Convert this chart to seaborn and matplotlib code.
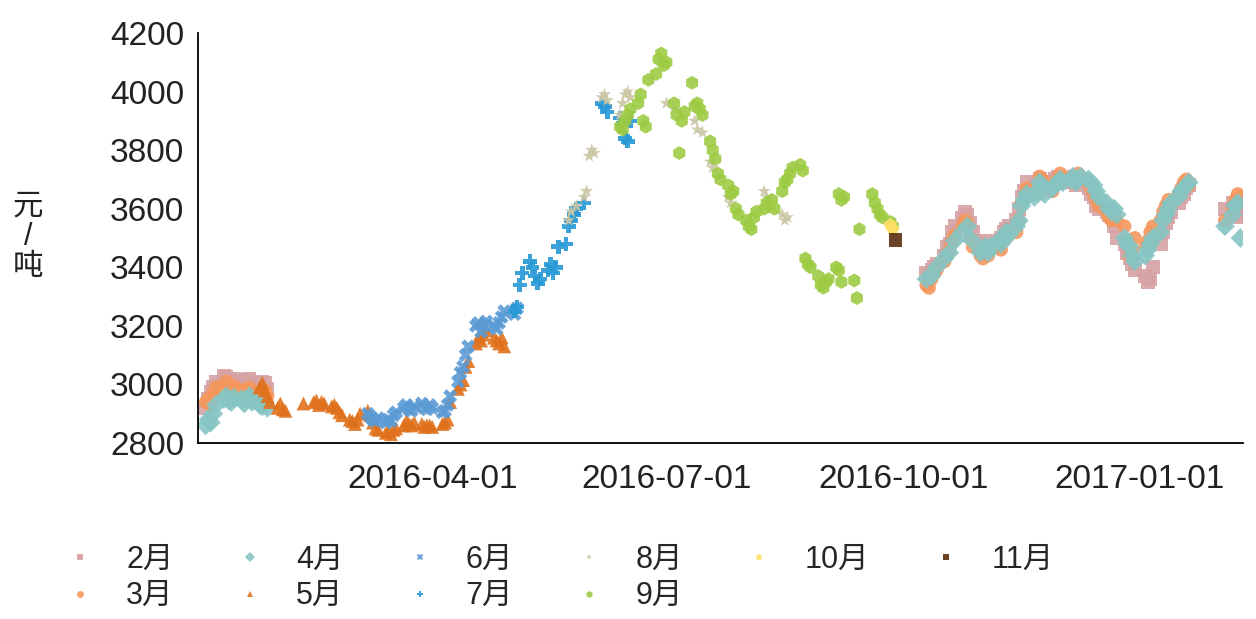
import matplotlib
matplotlib.use("Agg")
import matplotlib.pyplot as plt
import matplotlib.dates as mdates
import pandas as pd
import seaborn as sns

# contract months, colours, markers
contracts = ["2月", "3月", "4月", "5月", "6月", "7月", "8月", "9月", "10月", "11月"]
colors = ["#d6a2a4", "#f5975e", "#86c5c3", "#e0711c", "#5b9bd5", "#2799d6",
          "#cac6a4", "#9ecb43", "#ffe066", "#5c2e0e"]
markers = ["s", "o", "D", "^", "X", "P", "*", "h", "p", "s"]

# ---- 2月 ----
feb_dates = ["2016-01-04", "2016-01-05", "2016-01-06", "2016-01-07", "2016-01-08",
             "2016-01-11", "2016-01-12", "2016-01-13", "2016-01-14", "2016-01-15",
             "2016-01-18", "2016-01-19", "2016-01-20", "2016-01-21", "2016-01-22",
             "2016-01-25", "2016-01-26", "2016-01-27", "2016-01-28",
             "2016-10-10", "2016-10-11", "2016-10-12", "2016-10-13", "2016-10-14",
             "2016-10-17", "2016-10-18", "2016-10-19", "2016-10-20", "2016-10-21",
             "2016-10-24", "2016-10-25", "2016-10-26", "2016-10-27", "2016-10-28",
             "2016-10-31", "2016-11-01", "2016-11-02", "2016-11-03", "2016-11-07",
             "2016-11-08", "2016-11-09", "2016-11-10", "2016-11-11", "2016-11-14",
             "2016-11-15", "2016-11-16", "2016-11-17", "2016-11-18", "2016-11-21",
             "2016-11-22", "2016-11-23", "2016-11-24", "2016-11-25", "2016-11-28",
             "2016-11-29", "2016-11-30", "2016-12-01", "2016-12-02", "2016-12-05",
             "2016-12-06", "2016-12-07", "2016-12-08", "2016-12-09", "2016-12-12",
             "2016-12-13", "2016-12-14", "2016-12-15", "2016-12-16", "2016-12-19",
             "2016-12-20", "2016-12-21", "2016-12-22", "2016-12-23", "2016-12-26",
             "2016-12-27", "2016-12-28", "2016-12-29", "2016-12-30", "2017-01-03",
             "2017-01-04", "2017-01-05", "2017-01-06", "2017-01-09", "2017-01-10",
             "2017-01-11", "2017-01-12", "2017-01-13", "2017-01-16", "2017-01-17",
             "2017-01-18", "2017-01-19", "2017-01-20", "2017-02-03", "2017-02-06",
             "2017-02-07", "2017-02-08", "2017-02-09"]
feb_vals = [2920, 2950, 2975, 2990, 3010, 3030, 3025, 3015, 3005, 3020,
            3010, 3000, 3015, 3020, 3005, 2995, 3010, 3005, 2985,
            3380, 3370, 3390, 3400, 3410, 3440, 3470, 3480, 3520, 3540,
            3570, 3590, 3580, 3550, 3520, 3480, 3470, 3490, 3470, 3490,
            3500, 3520, 3530, 3540, 3560, 3600, 3640, 3660, 3690, 3670,
            3680, 3700, 3690, 3680, 3690, 3700, 3710, 3700, 3690, 3700,
            3690, 3680, 3700, 3690, 3670, 3650, 3640, 3610, 3600, 3590,
            3580, 3570, 3540, 3500, 3480, 3450, 3430, 3410, 3390, 3370,
            3350, 3360, 3400, 3480, 3520, 3550, 3570, 3590, 3620, 3640,
            3650, 3670, 3680, 3600, 3620, 3590, 3570, 3580]

# ---- 3月 ----
mar_dates = ["2016-01-04", "2016-01-05", "2016-01-06", "2016-01-07", "2016-01-08",
             "2016-01-11", "2016-01-12", "2016-01-13", "2016-01-14", "2016-01-15",
             "2016-01-18", "2016-01-19", "2016-01-20", "2016-01-21", "2016-01-22",
             "2016-01-25", "2016-01-26", "2016-01-27", "2016-01-28",
             "2016-10-10", "2016-10-11", "2016-10-12", "2016-10-13", "2016-10-14",
             "2016-10-17", "2016-10-18", "2016-10-19", "2016-10-20", "2016-10-21",
             "2016-10-24", "2016-10-25", "2016-10-26", "2016-10-27", "2016-10-28",
             "2016-10-31", "2016-11-01", "2016-11-02", "2016-11-03", "2016-11-04",
             "2016-11-07", "2016-11-08", "2016-11-09", "2016-11-10", "2016-11-11",
             "2016-11-14", "2016-11-15", "2016-11-16", "2016-11-17", "2016-11-18",
             "2016-11-21", "2016-11-22", "2016-11-23", "2016-11-24", "2016-11-25",
             "2016-11-28", "2016-11-29", "2016-11-30", "2016-12-01", "2016-12-02",
             "2016-12-05", "2016-12-06", "2016-12-07", "2016-12-08", "2016-12-09",
             "2016-12-12", "2016-12-13", "2016-12-14", "2016-12-15", "2016-12-16",
             "2016-12-19", "2016-12-20", "2016-12-21", "2016-12-22", "2016-12-23",
             "2016-12-26", "2016-12-27", "2016-12-28", "2016-12-29", "2016-12-30",
             "2017-01-03", "2017-01-04", "2017-01-05", "2017-01-06", "2017-01-09",
             "2017-01-10", "2017-01-11", "2017-01-12", "2017-01-13", "2017-01-16",
             "2017-01-17", "2017-01-18", "2017-01-19", "2017-01-20", "2017-02-03",
             "2017-02-06", "2017-02-07", "2017-02-08", "2017-02-09"]
mar_vals = [2940, 2950, 2930, 2970, 2990, 3000, 3010, 2990, 2985, 2995,
            2980, 2970, 2985, 2990, 2975, 2965, 2970, 2980, 2960,
            3340, 3330, 3360, 3380, 3390, 3420, 3440, 3460, 3490, 3510,
            3540, 3560, 3550, 3500, 3470, 3440, 3430, 3450, 3440, 3460,
            3470, 3460, 3490, 3500, 3510, 3520, 3560, 3620, 3640, 3670,
            3650, 3680, 3710, 3700, 3670, 3660, 3690, 3700, 3720, 3700,
            3710, 3690, 3700, 3720, 3700, 3690, 3670, 3650, 3630, 3610,
            3590, 3570, 3560, 3580, 3560, 3540, 3490, 3440, 3460, 3500,
            3470, 3490, 3520, 3540, 3560, 3590, 3610, 3630, 3620, 3650,
            3670, 3690, 3700, 3680, 3560, 3600, 3630, 3650, 3640]

# ---- 4月 ----
apr_dates = ["2016-01-04", "2016-01-05", "2016-01-06", "2016-01-07", "2016-01-08",
             "2016-01-11", "2016-01-12", "2016-01-13", "2016-01-14", "2016-01-15",
             "2016-01-18", "2016-01-19", "2016-01-20", "2016-01-21", "2016-01-22",
             "2016-01-25", "2016-01-26", "2016-01-27", "2016-01-28",
             "2016-10-10", "2016-10-12", "2016-10-14", "2016-10-17", "2016-10-19",
             "2016-10-21", "2016-10-24", "2016-10-26", "2016-10-28", "2016-10-31",
             "2016-11-01", "2016-11-02", "2016-11-03", "2016-11-04", "2016-11-07",
             "2016-11-08", "2016-11-09", "2016-11-10", "2016-11-11", "2016-11-14",
             "2016-11-15", "2016-11-16", "2016-11-17", "2016-11-18", "2016-11-21",
             "2016-11-22", "2016-11-23", "2016-11-24", "2016-11-25", "2016-11-28",
             "2016-11-29", "2016-11-30", "2016-12-01", "2016-12-02", "2016-12-05",
             "2016-12-06", "2016-12-07", "2016-12-08", "2016-12-09", "2016-12-12",
             "2016-12-13", "2016-12-14", "2016-12-15", "2016-12-16", "2016-12-19",
             "2016-12-20", "2016-12-21", "2016-12-22", "2016-12-23", "2016-12-26",
             "2016-12-27", "2016-12-28", "2016-12-29", "2016-12-30", "2017-01-03",
             "2017-01-04", "2017-01-05", "2017-01-06", "2017-01-09", "2017-01-10",
             "2017-01-11", "2017-01-12", "2017-01-13", "2017-01-16", "2017-01-17",
             "2017-01-18", "2017-01-19", "2017-01-20", "2017-02-03", "2017-02-06",
             "2017-02-07", "2017-02-08", "2017-02-09"]
apr_vals = [2860, 2880, 2870, 2900, 2930, 2950, 2960, 2945, 2940, 2955,
            2950, 2935, 2950, 2960, 2940, 2930, 2925, 2940, 2920,
            3360, 3370, 3400, 3430, 3450, 3490, 3520, 3540, 3490, 3450,
            3460, 3470, 3450, 3470, 3490, 3480, 3500, 3520, 3510, 3540,
            3560, 3610, 3630, 3650, 3640, 3660, 3690, 3680, 3650, 3670,
            3680, 3690, 3700, 3690, 3700, 3710, 3690, 3700, 3710, 3700,
            3690, 3680, 3660, 3640, 3620, 3600, 3590, 3600, 3580, 3500,
            3480, 3470, 3440, 3420, 3440, 3460, 3480, 3500, 3520, 3560,
            3580, 3600, 3620, 3640, 3660, 3670, 3680, 3690, 3540, 3580,
            3610, 3620, 3500]

# ---- 5月 ----
may_dates = ["2016-01-25", "2016-01-26", "2016-01-27", "2016-01-28", "2016-01-29",
             "2016-02-01", "2016-02-02", "2016-02-03", "2016-02-04", "2016-02-11",
             "2016-02-15", "2016-02-16", "2016-02-17", "2016-02-18", "2016-02-19",
             "2016-02-22", "2016-02-23", "2016-02-24", "2016-02-25", "2016-02-26",
             "2016-02-29", "2016-03-01", "2016-03-02", "2016-03-03", "2016-03-04",
             "2016-03-07", "2016-03-08", "2016-03-09", "2016-03-10", "2016-03-11",
             "2016-03-14", "2016-03-15", "2016-03-16", "2016-03-17", "2016-03-18",
             "2016-03-21", "2016-03-22", "2016-03-23", "2016-03-24", "2016-03-25",
             "2016-03-28", "2016-03-29", "2016-03-30", "2016-03-31", "2016-04-01",
             "2016-04-05", "2016-04-06", "2016-04-07", "2016-04-08", "2016-04-11",
             "2016-04-12", "2016-04-13", "2016-04-14", "2016-04-15", "2016-04-18",
             "2016-04-19", "2016-04-20", "2016-04-21", "2016-04-22", "2016-04-25",
             "2016-04-26", "2016-04-27", "2016-04-28", "2016-04-29"]
may_vals = [2990, 3005, 2980, 2960, 2940, 2920, 2935, 2915, 2910, 2935,
            2940, 2945, 2930, 2940, 2935, 2925, 2930, 2920, 2905, 2895,
            2880, 2875, 2865, 2880, 2900, 2910, 2895, 2870, 2850, 2845,
            2835, 2840, 2830, 2845, 2850, 2860, 2875, 2865, 2860, 2870,
            2865, 2855, 2860, 2860, 2855, 2865, 2870, 2880, 2940, 2985,
            3000, 3015, 3060, 3080, 3140, 3160, 3150, 3170, 3185, 3160,
            3150, 3140, 3160, 3130]

# ---- 6月 ----
jun_dates = ["2016-03-07", "2016-03-08", "2016-03-09", "2016-03-10", "2016-03-11",
             "2016-03-14", "2016-03-15", "2016-03-16", "2016-03-17", "2016-03-18",
             "2016-03-21", "2016-03-22", "2016-03-23", "2016-03-24", "2016-03-25",
             "2016-03-28", "2016-03-29", "2016-03-30", "2016-03-31", "2016-04-01",
             "2016-04-05", "2016-04-06", "2016-04-07", "2016-04-08", "2016-04-11",
             "2016-04-12", "2016-04-13", "2016-04-14", "2016-04-15", "2016-04-18",
             "2016-04-19", "2016-04-20", "2016-04-21", "2016-04-22", "2016-04-25",
             "2016-04-26", "2016-04-27", "2016-04-28", "2016-04-29", "2016-05-03",
             "2016-05-04"]
jun_vals = [2900, 2890, 2880, 2875, 2885, 2870, 2880, 2875, 2895, 2905,
            2920, 2930, 2915, 2910, 2925, 2935, 2920, 2915, 2930, 2920,
            2905, 2910, 2930, 2960, 3010, 3040, 3060, 3100, 3130, 3200,
            3210, 3180, 3200, 3215, 3200, 3190, 3210, 3230, 3250, 3240,
            3260]

# ---- 7月 ----
jul_dates = ["2016-05-03", "2016-05-04", "2016-05-05", "2016-05-06", "2016-05-09",
             "2016-05-10", "2016-05-11", "2016-05-12", "2016-05-13", "2016-05-16",
             "2016-05-17", "2016-05-18", "2016-05-19", "2016-05-20", "2016-05-23",
             "2016-05-24", "2016-05-25", "2016-05-26", "2016-05-27", "2016-05-30",
             "2016-06-06", "2016-06-07", "2016-06-08", "2016-06-13", "2016-06-14",
             "2016-06-15", "2016-06-16", "2016-06-17"]
jul_vals = [3250, 3265, 3340, 3380, 3420, 3400, 3370, 3345, 3360, 3390,
            3410, 3380, 3400, 3470, 3480, 3540, 3560, 3580, 3600, 3620,
            3960, 3950, 3930, 3910, 3890, 3840, 3830, 3900]

# ---- 8月 ----
aug_dates = ["2016-05-24", "2016-05-25", "2016-05-27", "2016-05-30", "2016-05-31",
             "2016-06-01", "2016-06-02", "2016-06-03", "2016-06-06", "2016-06-07",
             "2016-06-08", "2016-06-13", "2016-06-14", "2016-06-15", "2016-06-16",
             "2016-06-17", "2016-07-01", "2016-07-04", "2016-07-12", "2016-07-13",
             "2016-07-15", "2016-07-18", "2016-07-19", "2016-07-25", "2016-07-26",
             "2016-08-08", "2016-08-09", "2016-08-15", "2016-08-16", "2016-08-17"]
aug_vals = [3560, 3590, 3610, 3640, 3660, 3780, 3800, 3790, 3980, 3990,
            3970, 3920, 3960, 3990, 4000, 3980, 3960, 3940, 3900, 3870,
            3860, 3760, 3740, 3640, 3620, 3660, 3640, 3580, 3560, 3570]

# ---- 9月 ----
sep_dates = ["2016-06-13", "2016-06-14", "2016-06-15", "2016-06-16", "2016-06-17",
             "2016-06-20", "2016-06-21", "2016-06-22", "2016-06-23", "2016-06-24",
             "2016-06-27", "2016-06-28", "2016-06-29", "2016-06-30", "2016-07-01",
             "2016-07-04", "2016-07-05", "2016-07-06", "2016-07-07", "2016-07-08",
             "2016-07-11", "2016-07-12", "2016-07-13", "2016-07-14", "2016-07-15",
             "2016-07-18", "2016-07-19", "2016-07-20", "2016-07-21", "2016-07-22",
             "2016-07-25", "2016-07-26", "2016-07-27", "2016-07-28", "2016-07-29",
             "2016-08-01", "2016-08-02", "2016-08-03", "2016-08-04", "2016-08-05",
             "2016-08-08", "2016-08-09", "2016-08-10", "2016-08-11", "2016-08-12",
             "2016-08-15", "2016-08-16", "2016-08-17", "2016-08-18", "2016-08-19",
             "2016-08-22", "2016-08-23",
             "2016-08-24", "2016-08-25", "2016-08-26", "2016-08-29", "2016-08-30",
             "2016-08-31", "2016-09-01", "2016-09-02", "2016-09-05", "2016-09-06",
             "2016-09-07", "2016-09-12", "2016-09-13",
             "2016-09-06", "2016-09-07", "2016-09-08", "2016-09-19", "2016-09-20",
             "2016-09-21", "2016-09-22", "2016-09-23", "2016-09-26", "2016-09-27",
             "2016-09-14"]
sep_vals = [3880, 3870, 3900, 3920, 3940, 3960, 3990, 3900, 3880, 4040,
            4060, 4110, 4130, 4090, 4100, 3960, 3920, 3790, 3900, 3930,
            4030, 3950, 3960, 3940, 3920, 3830, 3800, 3770, 3720, 3700,
            3680, 3650, 3660, 3600, 3580, 3560, 3540, 3530, 3570, 3590,
            3600, 3620, 3610, 3630, 3600, 3660, 3690, 3700, 3720, 3740,
            3750, 3730,
            3430, 3410, 3400, 3370, 3340, 3330, 3350, 3360, 3400, 3390,
            3350, 3355, 3295,
            3650, 3630, 3640, 3650, 3620, 3600, 3580, 3570, 3555, 3540,
            3530]

# ---- 10月 ----
oct_dates = ["2016-09-26", "2016-09-27"]
oct_vals = [3545, 3530]

# ---- 11月 ----
nov_dates = ["2016-09-28"]
nov_vals = [3493]

# tick positions
xtick_dates = ["2016-04-01", "2016-07-01", "2016-10-01", "2017-01-01"]
yticks = [2800, 3000, 3200, 3400, 3600, 3800, 4000, 4200]

all_dates = [feb_dates, mar_dates, apr_dates, may_dates, jun_dates,
             jul_dates, aug_dates, sep_dates, oct_dates, nov_dates]
all_vals = [feb_vals, mar_vals, apr_vals, may_vals, jun_vals,
            jul_vals, aug_vals, sep_vals, oct_vals, nov_vals]

frames = []
for c, d, v in zip(contracts, all_dates, all_vals):
    frames.append(pd.DataFrame({"date": pd.to_datetime(d), "price": v, "contract": c}))
df = pd.concat(frames, ignore_index=True)

sns.set_style("white")
plt.rcParams["font.family"] = ["Liberation Sans", "Noto Sans CJK SC", "DejaVu Sans"]

fig = plt.figure(figsize=(12.56, 6.19), dpi=100)
ax = fig.add_axes([0.1576, 0.2843, 0.832, 0.6624])

sns.scatterplot(
    data=df, x="date", y="price",
    hue="contract", style="contract",
    hue_order=contracts, style_order=contracts,
    palette=dict(zip(contracts, colors)),
    markers=dict(zip(contracts, markers)),
    s=100, linewidth=0, alpha=0.9, ax=ax
)

ax.set_xlim(pd.Timestamp("2016-01-01"), pd.Timestamp("2017-02-10"))
ax.set_ylim(2800, 4200)
ax.set_xticks(pd.to_datetime(xtick_dates))
ax.xaxis.set_major_formatter(mdates.DateFormatter("%Y-%m-%d"))
ax.set_yticks(yticks)
ax.set_xlabel("")
ax.set_ylabel("")

for side in ["top", "right"]:
    ax.spines[side].set_visible(False)
for side in ["left", "bottom"]:
    ax.spines[side].set_color("black")
    ax.spines[side].set_linewidth(1.3)

ax.tick_params(axis="both", which="major", direction="out", length=8, width=1.2,
               color="black", labelsize=24, labelcolor="#222222")
ax.tick_params(axis="x", pad=7)
ax.tick_params(axis="y", pad=2)

fig.text(28 / 1256, 1 - 237 / 619, "元\n/\n吨", fontsize=22, ha="center", va="center",
         linespacing=1.0, color="#222222")

sns.move_legend(
    ax, "upper left",
    bbox_to_anchor=(0.042, 0.139), bbox_transform=fig.transFigure,
    ncol=6, frameon=False, title=None, fontsize=22,
    handlelength=1.0, handletextpad=1.0, columnspacing=2.0,
    labelspacing=0.2, borderaxespad=0, markerscale=0.5
)

fig.savefig("out.png", dpi=100)
